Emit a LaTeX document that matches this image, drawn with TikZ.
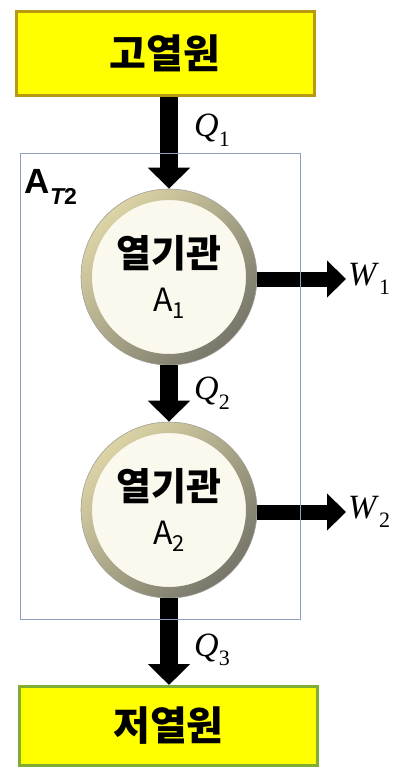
\documentclass[tikz,border=0pt]{standalone}
\usepackage{fontspec}
\setmainfont{Liberation Serif}
\newfontfamily\kor{Noto Sans CJK KR}
\newfontfamily\lsans{Liberation Sans}
\usetikzlibrary{arrows.meta, calc}

\definecolor{boxyellow}{HTML}{FFFF00}
\definecolor{hotedge}{HTML}{B89A10}
\definecolor{coldedge}{HTML}{80AE34}
\definecolor{cream}{HTML}{FBF9EE}
\definecolor{ringlight}{HTML}{DCD4A6}
\definecolor{ringdark}{HTML}{77766A}
\definecolor{framecol}{HTML}{8EA0C4}

\newcommand{\heatlbl}[2]{\textit{#1}\raisebox{-0.28em}{\fontsize{22}{22}\selectfont\upshape #2}}
\newcommand{\enginelbl}[1]{\\{\mdseries\fontsize{32}{32}\selectfont A\raisebox{-0.22em}{\fontsize{22}{22}\selectfont #1}}}

\begin{document}
\begin{tikzpicture}[
    x=1pt, y=-1pt,
    reservoir/.style={draw, line width=3pt, fill=boxyellow, minimum width=298pt, minimum height=84pt, font=\kor\bfseries\fontsize{40}{40}\selectfont},
    engine/.style={circle, minimum size=176pt, inner sep=0pt, fill=cream, draw=ringdark!70, line width=0.6pt, align=center,
        font=\kor\bfseries\fontsize{38}{44}\selectfont,
        path picture={\shade[even odd rule, top color=ringlight, bottom color=ringdark, shading angle=45]
            (path picture bounding box.center) circle (88pt) circle (77pt);}},
    qflow/.style={line width=18pt, -{Triangle[length=21pt, width=41pt]}},
    wflow/.style={line width=15pt, -{Triangle[length=19pt, width=36pt]}},
    heat/.style={font=\fontsize{34}{34}\selectfont, inner sep=0pt}
]
\useasboundingbox (0,0) rectangle (404,769);

\node[reservoir, draw=hotedge] (Hot) at (165,53.5) {고열원};
\node[reservoir, draw=coldedge, minimum height=79pt] (Cold) at (168.5,726) {저열원};

\node[engine] (E1) at (169,277) {열기관\enginelbl{1}};
\node[engine] (E2) at (169,510) {열기관\enginelbl{2}};

\coordinate (W1end) at (346,279);
\coordinate (W2end) at (346,512);

\draw[qflow] (E1 |- Hot.south) -- (E1.north);
\draw[qflow] (E1.south) -- (E2.north);
\draw[qflow] (E2.south) -- (E2 |- Cold.north);
\draw[wflow] (E1.east |- W1end) -- (W1end);
\draw[wflow] (E2.east |- W2end) -- (W2end);

\node[heat] (Q1) at (212,130) {\heatlbl{Q}{1}};
\node[heat] (Q2) at (212,393) {\heatlbl{Q}{2}};
\node[heat] (Q3) at (212,650) {\heatlbl{Q}{3}};
\node[heat, anchor=west] (W1) at ($(W1end)+(2,0)$) {\heatlbl{W}{1}};
\node[heat, anchor=west] (W2) at ($(W2end)+(2,0)$) {\heatlbl{W}{2}};

\node[draw=framecol, line width=0.8pt, minimum width=280pt, minimum height=466pt, inner sep=0pt] (Sys) at (160,386) {};
\node[anchor=north west, inner sep=0pt, font=\lsans\bfseries\fontsize{35}{35}\selectfont] (AT2) at ($(Sys.north west)+(5,17)$)
    {A\raisebox{-0.3em}{\fontsize{23}{23}\selectfont\itshape T\upshape 2}};
\end{tikzpicture}
\end{document}
